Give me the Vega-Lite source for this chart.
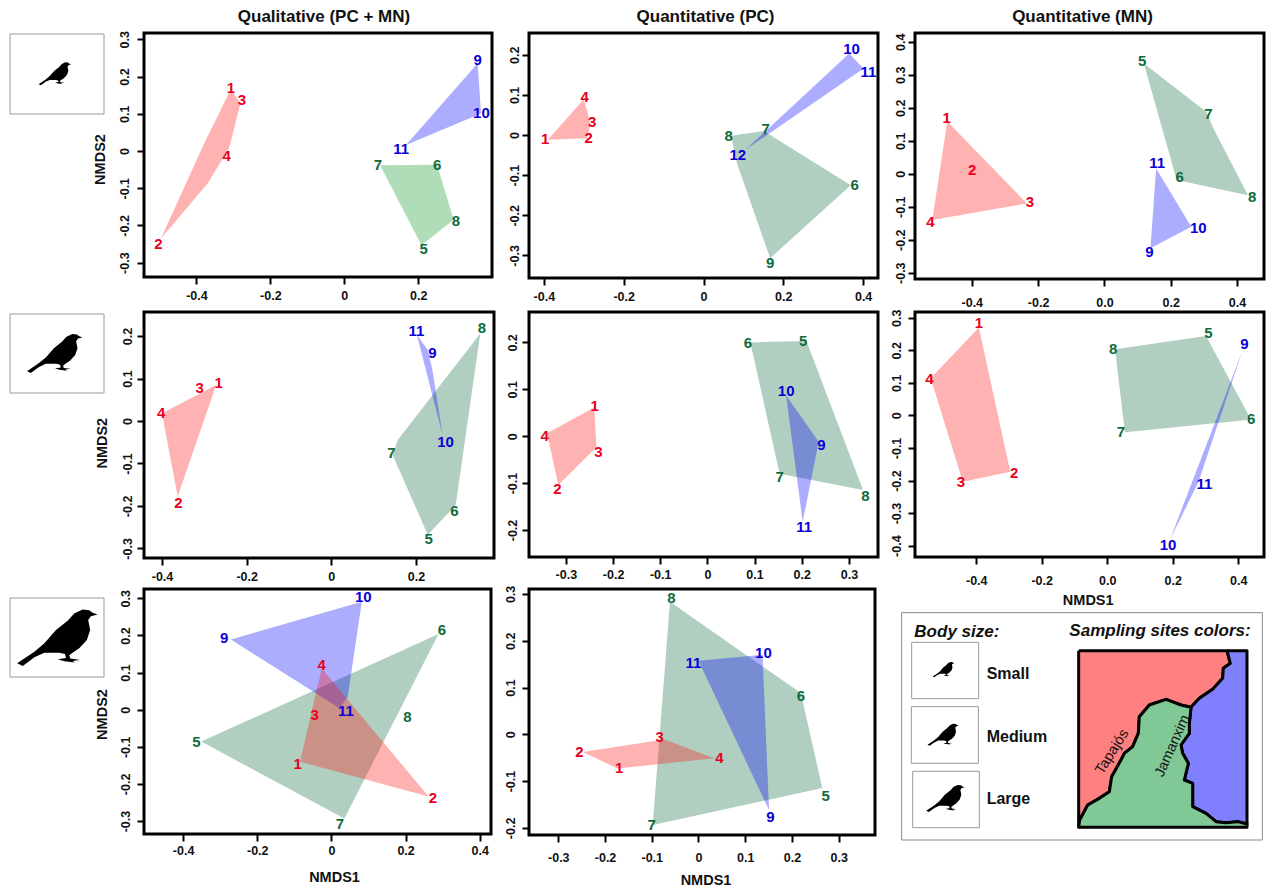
{"$schema":"https://vega.github.io/schema/vega-lite/v6.json","padding":{"left":9,"top":0,"right":0,"bottom":0},"background":"white","bounds":"flush","spacing":0,"columns":7,"resolve":{"scale":{"fill":"independent"}},
"config":{"view":{"stroke":null},"font":"Liberation Sans","axis":{"grid":false,"domain":false,"ticks":true,"tickColor":"black","tickWidth":2,"tickSize":7,"labelFont":"Liberation Sans","labelFontWeight":"bold","labelFontSize":12.5,"labelColor":"#111","labelOverlap":false,"labelFlush":false,"labelBound":false,"titleFont":"Liberation Sans","titleFontWeight":"bold","titleFontSize":14.5,"titleColor":"#111","titleBaseline":"middle","titleAlign":"center"},"axisY":{"labelAngle":-90,"labelAlign":"center","labelBaseline":"bottom"},"axisX":{"labelAngle":0,"labelAlign":"center","labelBaseline":"top"},"title":{"font":"Liberation Sans","fontWeight":"bold","fontSize":17,"color":"#111","anchor":"middle"}},
"datasets":{"e":[{}],"box":[{"x":0,"x2":1,"y":0,"y2":1}],"iconS":[{"x":0.48,"y":0.4925}],"iconM":[{"x":0.479,"y":0.491}],"iconL":[{"x":0.507,"y":0.49}],
"A1h":[{"s":"g","i":0,"x":0.097,"y":-0.0385},{"s":"g","i":1,"x":0.251,"y":-0.0367},{"s":"g","i":2,"x":0.296,"y":-0.185},{"s":"g","i":3,"x":0.209,"y":-0.253},{"s":"b","i":0,"x":0.361,"y":0.2355},{"s":"b","i":1,"x":0.37,"y":0.101},{"s":"b","i":2,"x":0.167,"y":0.016},{"s":"r","i":0,"x":-0.307,"y":0.166},{"s":"r","i":1,"x":-0.281,"y":0.128},{"s":"r","i":2,"x":-0.312,"y":0.007},{"s":"r","i":3,"x":-0.37,"y":-0.087},{"s":"r","i":4,"x":-0.496,"y":-0.235},{"s":"r","i":5,"x":-0.379,"y":0.021}],
"A1l":[{"s":"r","n":"1","x":-0.307,"y":0.168},{"s":"r","n":"3","x":-0.277,"y":0.137},{"s":"r","n":"4","x":-0.318,"y":-0.0134},{"s":"r","n":"2","x":-0.503,"y":-0.249},{"s":"b","n":"9","x":0.361,"y":0.244},{"s":"b","n":"10","x":0.371,"y":0.101},{"s":"b","n":"11","x":0.154,"y":0.006},{"s":"g","n":"7","x":0.091,"y":-0.0385},{"s":"g","n":"6","x":0.251,"y":-0.0367},{"s":"g","n":"8","x":0.302,"y":-0.189},{"s":"g","n":"5","x":0.215,"y":-0.262}],
"A2h":[{"s":"g","i":0,"x":0.069,"y":-0.002},{"s":"g","i":1,"x":0.151,"y":0.01},{"s":"g","i":2,"x":0.369,"y":-0.125},{"s":"g","i":3,"x":0.167,"y":-0.307},{"s":"g","i":4,"x":0.084,"y":-0.071},{"s":"b","i":0,"x":0.365,"y":0.203},{"s":"b","i":1,"x":0.401,"y":0.166},{"s":"b","i":2,"x":0.105,"y":-0.037},{"s":"r","i":0,"x":-0.3,"y":0.089},{"s":"r","i":1,"x":-0.283,"y":0.029},{"s":"r","i":2,"x":-0.292,"y":-0.008},{"s":"r","i":3,"x":-0.39,"y":-0.012}],
"A2l":[{"s":"r","n":"4","x":-0.298,"y":0.095},{"s":"r","n":"3","x":-0.279,"y":0.033},{"s":"r","n":"2","x":-0.288,"y":-0.008},{"s":"r","n":"1","x":-0.397,"y":-0.011},{"s":"g","n":"8","x":0.063,"y":-0.003},{"s":"g","n":"7","x":0.156,"y":0.015},{"s":"b","n":"12","x":0.086,"y":-0.05},{"s":"b","n":"10","x":0.371,"y":0.215},{"s":"b","n":"11","x":0.413,"y":0.156},{"s":"g","n":"6","x":0.379,"y":-0.125},{"s":"g","n":"9","x":0.167,"y":-0.32}],
"A3h":[{"s":"g","i":0,"x":0.119,"y":0.334},{"s":"g","i":1,"x":0.307,"y":0.188},{"s":"g","i":2,"x":0.329,"y":0.137},{"s":"g","i":3,"x":0.433,"y":-0.065},{"s":"g","i":4,"x":0.218,"y":-0.019},{"s":"b","i":0,"x":0.156,"y":0.016},{"s":"b","i":1,"x":0.262,"y":-0.161},{"s":"b","i":2,"x":0.139,"y":-0.226},{"s":"r","i":0,"x":-0.474,"y":0.158},{"s":"r","i":1,"x":-0.234,"y":-0.09},{"s":"r","i":2,"x":-0.519,"y":-0.14}],
"A3l":[{"s":"r","n":"1","x":-0.476,"y":0.17},{"s":"r","n":"2","x":-0.399,"y":0.011},{"s":"r","n":"3","x":-0.225,"y":-0.085},{"s":"r","n":"4","x":-0.525,"y":-0.146},{"s":"g","n":"5","x":0.114,"y":0.342},{"s":"g","n":"7","x":0.314,"y":0.181},{"s":"g","n":"6","x":0.227,"y":-0.009},{"s":"g","n":"8","x":0.446,"y":-0.07},{"s":"b","n":"11","x":0.159,"y":0.031},{"s":"b","n":"10","x":0.283,"y":-0.166},{"s":"b","n":"9","x":0.136,"y":-0.236}],
"B1h":[{"s":"g","i":0,"x":0.352,"y":0.206},{"s":"g","i":1,"x":0.294,"y":-0.198},{"s":"g","i":2,"x":0.228,"y":-0.268},{"s":"g","i":3,"x":0.145,"y":-0.08},{"s":"g","i":4,"x":0.157,"y":-0.045},{"s":"b","i":0,"x":0.202,"y":0.203},{"s":"b","i":1,"x":0.228,"y":0.167},{"s":"b","i":2,"x":0.239,"y":0.12},{"s":"b","i":3,"x":0.263,"y":-0.033},{"s":"r","i":0,"x":-0.272,"y":0.085},{"s":"r","i":1,"x":-0.4,"y":0.018},{"s":"r","i":2,"x":-0.363,"y":-0.178}],
"B1l":[{"s":"r","n":"1","x":-0.266,"y":0.09},{"s":"r","n":"3","x":-0.311,"y":0.077},{"s":"r","n":"4","x":-0.402,"y":0.02},{"s":"r","n":"2","x":-0.361,"y":-0.192},{"s":"g","n":"8","x":0.356,"y":0.218},{"s":"b","n":"11","x":0.201,"y":0.212},{"s":"b","n":"9","x":0.239,"y":0.159},{"s":"b","n":"10","x":0.27,"y":-0.05},{"s":"g","n":"7","x":0.142,"y":-0.076},{"s":"g","n":"6","x":0.291,"y":-0.213},{"s":"g","n":"5","x":0.23,"y":-0.279}],
"B2h":[{"s":"g","i":0,"x":0.091,"y":0.2},{"s":"g","i":1,"x":0.21,"y":0.203},{"s":"g","i":2,"x":0.33,"y":-0.115},{"s":"g","i":3,"x":0.153,"y":-0.08},{"s":"b","i":0,"x":0.167,"y":0.087},{"s":"b","i":1,"x":0.236,"y":-0.012},{"s":"b","i":2,"x":0.202,"y":-0.183},{"s":"r","i":0,"x":-0.24,"y":0.061},{"s":"r","i":1,"x":-0.235,"y":-0.023},{"s":"r","i":2,"x":-0.316,"y":-0.104},{"s":"r","i":3,"x":-0.34,"y":0.006}],
"B2l":[{"s":"r","n":"1","x":-0.239,"y":0.065},{"s":"r","n":"3","x":-0.231,"y":-0.033},{"s":"r","n":"4","x":-0.345,"y":0},{"s":"r","n":"2","x":-0.318,"y":-0.113},{"s":"g","n":"6","x":0.086,"y":0.198},{"s":"g","n":"5","x":0.203,"y":0.204},{"s":"b","n":"10","x":0.167,"y":0.096},{"s":"b","n":"9","x":0.242,"y":-0.018},{"s":"g","n":"7","x":0.153,"y":-0.087},{"s":"g","n":"8","x":0.335,"y":-0.128},{"s":"b","n":"11","x":0.205,"y":-0.194}],
"B3h":[{"s":"g","i":0,"x":0.024,"y":0.203},{"s":"g","i":1,"x":0.302,"y":0.244},{"s":"g","i":2,"x":0.432,"y":0.001},{"s":"g","i":3,"x":0.426,"y":-0.014},{"s":"g","i":4,"x":0.054,"y":-0.052},{"s":"b","i":0,"x":0.414,"y":0.201},{"s":"b","i":1,"x":0.279,"y":-0.204},{"s":"b","i":2,"x":0.192,"y":-0.381},{"s":"r","i":0,"x":-0.392,"y":0.27},{"s":"r","i":1,"x":-0.296,"y":-0.173},{"s":"r","i":2,"x":-0.441,"y":-0.204},{"s":"r","i":3,"x":-0.539,"y":0.114}],
"B3l":[{"s":"r","n":"1","x":-0.392,"y":0.285},{"s":"r","n":"4","x":-0.543,"y":0.112},{"s":"r","n":"3","x":-0.447,"y":-0.203},{"s":"r","n":"2","x":-0.284,"y":-0.176},{"s":"g","n":"8","x":0.018,"y":0.205},{"s":"g","n":"5","x":0.309,"y":0.252},{"s":"g","n":"7","x":0.042,"y":-0.05},{"s":"g","n":"6","x":0.44,"y":-0.01},{"s":"b","n":"9","x":0.419,"y":0.219},{"s":"b","n":"11","x":0.297,"y":-0.212},{"s":"b","n":"10","x":0.186,"y":-0.398}],
"C1h":[{"s":"g","i":0,"x":0.289,"y":0.204},{"s":"g","i":1,"x":0.035,"y":-0.293},{"s":"g","i":2,"x":-0.351,"y":-0.086},{"s":"b","i":0,"x":0.082,"y":0.291},{"s":"b","i":1,"x":0.044,"y":0.035},{"s":"b","i":2,"x":0.022,"y":0.004},{"s":"b","i":3,"x":-0.271,"y":0.189},{"s":"r","i":0,"x":-0.026,"y":0.111},{"s":"r","i":1,"x":0.262,"y":-0.234},{"s":"r","i":2,"x":-0.085,"y":-0.14}],
"C1l":[{"s":"b","n":"10","x":0.086,"y":0.303},{"s":"g","n":"6","x":0.298,"y":0.216},{"s":"b","n":"9","x":-0.289,"y":0.192},{"s":"r","n":"4","x":-0.026,"y":0.121},{"s":"r","n":"3","x":-0.045,"y":-0.013},{"s":"b","n":"11","x":0.039,"y":-0.004},{"s":"g","n":"8","x":0.205,"y":-0.02},{"s":"g","n":"5","x":-0.364,"y":-0.086},{"s":"r","n":"1","x":-0.091,"y":-0.145},{"s":"r","n":"2","x":0.274,"y":-0.239},{"s":"g","n":"7","x":0.023,"y":-0.309}],
"C2h":[{"s":"g","i":0,"x":-0.061,"y":0.283},{"s":"g","i":1,"x":0.219,"y":0.088},{"s":"g","i":2,"x":0.265,"y":-0.115},{"s":"g","i":3,"x":-0.098,"y":-0.194},{"s":"b","i":0,"x":0,"y":0.157},{"s":"b","i":1,"x":0.137,"y":0.17},{"s":"b","i":2,"x":0.151,"y":-0.162},{"s":"r","i":0,"x":-0.073,"y":-0.011},{"s":"r","i":1,"x":0.034,"y":-0.051},{"s":"r","i":2,"x":-0.173,"y":-0.073},{"s":"r","i":3,"x":-0.248,"y":-0.038}],
"C2l":[{"s":"g","n":"8","x":-0.058,"y":0.291},{"s":"b","n":"10","x":0.139,"y":0.173},{"s":"b","n":"11","x":-0.011,"y":0.153},{"s":"g","n":"6","x":0.219,"y":0.082},{"s":"r","n":"3","x":-0.083,"y":-0.005},{"s":"r","n":"2","x":-0.255,"y":-0.038},{"s":"r","n":"4","x":0.045,"y":-0.051},{"s":"r","n":"1","x":-0.17,"y":-0.072},{"s":"g","n":"5","x":0.272,"y":-0.132},{"s":"b","n":"9","x":0.154,"y":-0.177},{"s":"g","n":"7","x":-0.1,"y":-0.194}],
"regions":[{"s":"r","i":0,"x":563,"y":152},{"s":"r","i":1,"x":1008,"y":152},{"s":"r","i":2,"x":1018,"y":190},{"s":"r","i":3,"x":997,"y":205},{"s":"r","i":4,"x":995,"y":235},{"s":"r","i":5,"x":965,"y":268},{"s":"r","i":6,"x":925,"y":295},{"s":"r","i":7,"x":900,"y":322},{"s":"r","i":8,"x":870,"y":315},{"s":"r","i":9,"x":825,"y":298},{"s":"r","i":10,"x":775,"y":315},{"s":"r","i":11,"x":745,"y":350},{"s":"r","i":12,"x":742,"y":400},{"s":"r","i":13,"x":725,"y":440},{"s":"r","i":14,"x":700,"y":460},{"s":"r","i":15,"x":690,"y":480},{"s":"r","i":16,"x":662,"y":530},{"s":"r","i":17,"x":655,"y":575},{"s":"r","i":18,"x":625,"y":595},{"s":"r","i":19,"x":590,"y":615},{"s":"r","i":20,"x":566,"y":660},{"s":"r","i":21,"x":563,"y":682},{"s":"r","i":22,"x":563,"y":152},
{"s":"b","i":0,"x":1008,"y":152},{"s":"b","i":1,"x":1068,"y":152},{"s":"b","i":2,"x":1068,"y":672},{"s":"b","i":3,"x":1040,"y":665},{"s":"b","i":4,"x":1005,"y":668},{"s":"b","i":5,"x":975,"y":665},{"s":"b","i":6,"x":945,"y":640},{"s":"b","i":7,"x":905,"y":620},{"s":"b","i":8,"x":905,"y":550},{"s":"b","i":9,"x":880,"y":540},{"s":"b","i":10,"x":892,"y":490},{"s":"b","i":11,"x":875,"y":460},{"s":"b","i":12,"x":870,"y":435},{"s":"b","i":13,"x":895,"y":400},{"s":"b","i":14,"x":895,"y":370},{"s":"b","i":15,"x":900,"y":322},{"s":"b","i":16,"x":925,"y":295},{"s":"b","i":17,"x":965,"y":268},{"s":"b","i":18,"x":995,"y":235},{"s":"b","i":19,"x":997,"y":205},{"s":"b","i":20,"x":1018,"y":190},{"s":"b","i":21,"x":1008,"y":152},
{"s":"g","i":0,"x":563,"y":682},{"s":"g","i":1,"x":566,"y":660},{"s":"g","i":2,"x":590,"y":615},{"s":"g","i":3,"x":625,"y":595},{"s":"g","i":4,"x":655,"y":575},{"s":"g","i":5,"x":662,"y":530},{"s":"g","i":6,"x":690,"y":480},{"s":"g","i":7,"x":700,"y":460},{"s":"g","i":8,"x":725,"y":440},{"s":"g","i":9,"x":742,"y":400},{"s":"g","i":10,"x":745,"y":350},{"s":"g","i":11,"x":775,"y":315},{"s":"g","i":12,"x":825,"y":298},{"s":"g","i":13,"x":870,"y":315},{"s":"g","i":14,"x":900,"y":322},{"s":"g","i":15,"x":895,"y":370},{"s":"g","i":16,"x":895,"y":400},{"s":"g","i":17,"x":870,"y":435},{"s":"g","i":18,"x":875,"y":460},{"s":"g","i":19,"x":892,"y":490},{"s":"g","i":20,"x":880,"y":540},{"s":"g","i":21,"x":905,"y":550},{"s":"g","i":22,"x":905,"y":620},{"s":"g","i":23,"x":945,"y":640},{"s":"g","i":24,"x":975,"y":665},{"s":"g","i":25,"x":1005,"y":668},{"s":"g","i":26,"x":1040,"y":665},{"s":"g","i":27,"x":1068,"y":672},{"s":"g","i":28,"x":1068,"y":682},{"s":"g","i":29,"x":563,"y":682}],
"frame":[{"x":32,"x2":1114,"y":38,"y2":720}],
"boxes":[{"x":62,"x2":263,"y":127,"y2":296},{"x":61,"x2":262,"y":320,"y2":490},{"x":65,"x2":265,"y":514,"y2":683}],
"birds":[{"b":"Small","x":158,"y":208},{"b":"Medium","x":157,"y":403},{"b":"Large","x":164,"y":594}],
"sizes":[{"t":"Small","x":287,"y":222},{"t":"Medium","x":287,"y":410},{"t":"Large","x":287,"y":598}],
"head1":[{"t":"Body size:","x":70,"y":95},{"t":"Sampling sites colors:","x":535,"y":92}],
"tap":[{"t":"Tapajós","x":664,"y":456}],"jam":[{"t":"Jamanxim","x":845,"y":438}]},
"concat":[
{"width":1,"height":27,"data":{"name":"e"},"mark":{"type":"text","text":""}},{"width":1,"height":1,"data":{"name":"e"},"mark":{"type":"text","text":""}},{"width":1,"height":1,"data":{"name":"e"},"mark":{"type":"text","text":""}},{"width":1,"height":1,"data":{"name":"e"},"mark":{"type":"text","text":""}},{"width":1,"height":1,"data":{"name":"e"},"mark":{"type":"text","text":""}},{"width":1,"height":1,"data":{"name":"e"},"mark":{"type":"text","text":""}},{"width":1,"height":1,"data":{"name":"e"},"mark":{"type":"text","text":""}},

{"width":94,"height":81,"encoding":{"x":{"field":"x","type":"quantitative","axis":null,"scale":{"domain":[0,1]}},"y":{"field":"y","type":"quantitative","axis":null,"scale":{"domain":[1,-0.0125]}}},"layer":[{"data":{"name":"box"},"mark":{"type":"rect","fill":"white","stroke":"#999","strokeWidth":1},"encoding":{"x2":{"field":"x2"},"y2":{"field":"y2"}}},{"data":{"name":"iconS"},"mark":{"type":"point","filled":true,"opacity":1,"color":"black","size":1089,"shape":"M0.984,-0.549L0.82,-0.508L0.754,-0.41L0.803,-0.164L0.721,0.082L0.533,0.287L0.369,0.393L0.287,0.459L0.311,0.541L0.557,0.574L0.369,0.598L0.426,0.639L0.164,0.607L0,0.557L0.205,0.525L0.18,0.426L0.041,0.393L-0.328,0.393L-0.574,0.508L-0.861,0.721L-1,0.656L-0.574,0.369L-0.328,0.164L-0.041,-0.164L0.246,-0.393L0.41,-0.574L0.615,-0.672L0.779,-0.656L0.861,-0.59Z"}}]},
{"width":40,"height":1,"data":{"name":"e"},"mark":{"type":"text","text":""}},
{"width":348,"height":244,"view":{"stroke":"black","strokeWidth":3},"title":{"text":"Qualitative (PC + MN)","dx":6,"offset":5},
"encoding":{"x":{"field":"x","type":"quantitative","scale":{"domain":[-0.542,0.3997],"nice":false,"zero":false},"axis":{"title":null,"values":[-0.4,-0.2,0,0.2],"labelPadding":5.2,"labelExpr":"(datum.value<0?'-':'')+format(abs(datum.value),'.1~f')"}},"y":{"field":"y","type":"quantitative","scale":{"domain":[-0.3385,0.317],"nice":false,"zero":false},"axis":{"title":"NMDS2","titleX":-43.7,"titleY":126,"values":[-0.3,-0.2,-0.1,0,0.1,0.2,0.3],"labelPadding":6,"labelExpr":"(datum.value<0?'-':'')+format(abs(datum.value),'.1~f')"}}},
"layer":[{"data":{"name":"A1h"},"mark":{"type":"line","strokeWidth":0,"strokeOpacity":0,"fillOpacity":0.32},"encoding":{"order":{"field":"i","type":"quantitative"},"fill":{"field":"s","type":"nominal","legend":null,"scale":{"domain":["g","b","r"],"range":["#029521","#0000ff","#ff0e0e"]}}}},
{"data":{"name":"A1l"},"mark":{"type":"text","font":"Liberation Sans","fontWeight":"bold","fontSize":15,"align":"center","baseline":"middle"},"encoding":{"text":{"field":"n"},"color":{"field":"s","type":"nominal","legend":null,"scale":{"domain":["g","b","r"],"range":["#0e6b3c","#0a00d8","#e8001c"]}}}}]},
{"width":35,"height":1,"data":{"name":"e"},"mark":{"type":"text","text":""}},
{"width":349,"height":245,"view":{"stroke":"black","strokeWidth":3},"title":{"text":"Quantitative (PC)","dx":2,"offset":7},
"encoding":{"x":{"field":"x","type":"quantitative","scale":{"domain":[-0.4373,0.4373],"nice":false,"zero":false},"axis":{"title":null,"values":[-0.4,-0.2,0,0.2,0.4],"labelPadding":5.2,"labelExpr":"(datum.value<0?'-':'')+format(abs(datum.value),'.1~f')"}},"y":{"field":"y","type":"quantitative","scale":{"domain":[-0.3563,0.2542],"nice":false,"zero":false},"axis":{"title":null,"values":[-0.3,-0.2,-0.1,0,0.1,0.2],"labelPadding":1,"labelExpr":"(datum.value<0?'-':'')+format(abs(datum.value),'.1~f')"}}},
"layer":[{"data":{"name":"A2h"},"mark":{"type":"line","strokeWidth":0,"strokeOpacity":0,"fillOpacity":0.32},"encoding":{"order":{"field":"i","type":"quantitative"},"fill":{"field":"s","type":"nominal","legend":null,"scale":{"domain":["g","b","r"],"range":["#0b693a","#0000ff","#ff0e0e"]}}}},
{"data":{"name":"A2l"},"mark":{"type":"text","font":"Liberation Sans","fontWeight":"bold","fontSize":15,"align":"center","baseline":"middle"},"encoding":{"text":{"field":"n"},"color":{"field":"s","type":"nominal","legend":null,"scale":{"domain":["g","b","r"],"range":["#0e6b3c","#0a00d8","#e8001c"]}}}}]},
{"width":37,"height":1,"data":{"name":"e"},"mark":{"type":"text","text":""}},
{"width":349,"height":246,"view":{"stroke":"black","strokeWidth":3},"title":{"text":"Quantitative (MN)","dx":-7,"offset":7},
"encoding":{"x":{"field":"x","type":"quantitative","scale":{"domain":[-0.5713,0.4814],"nice":false,"zero":false},"axis":{"title":null,"values":[-0.4,-0.2,0,0.2,0.4],"labelPadding":10.2,"labelExpr":"(datum.value<0?'-':'')+format(abs(datum.value),'.1f')"}},"y":{"field":"y","type":"quantitative","scale":{"domain":[-0.3191,0.4264],"nice":false,"zero":false},"axis":{"title":null,"values":[-0.3,-0.2,-0.1,0,0.1,0.2,0.3,0.4],"labelPadding":0.5,"labelExpr":"(datum.value<0?'-':'')+format(abs(datum.value),'.1~f')"}}},
"layer":[{"data":{"name":"A3h"},"mark":{"type":"line","strokeWidth":0,"strokeOpacity":0,"fillOpacity":0.32},"encoding":{"order":{"field":"i","type":"quantitative"},"fill":{"field":"s","type":"nominal","legend":null,"scale":{"domain":["g","b","r"],"range":["#0b693a","#0000ff","#ff0e0e"]}}}},
{"data":{"name":"A3l"},"mark":{"type":"text","font":"Liberation Sans","fontWeight":"bold","fontSize":15,"align":"center","baseline":"middle"},"encoding":{"text":{"field":"n"},"color":{"field":"s","type":"nominal","legend":null,"scale":{"domain":["g","b","r"],"range":["#0e6b3c","#0a00d8","#e8001c"]}}}}]},

{"width":1,"height":33,"data":{"name":"e"},"mark":{"type":"text","text":""}},{"width":1,"height":1,"data":{"name":"e"},"mark":{"type":"text","text":""}},{"width":1,"height":1,"data":{"name":"e"},"mark":{"type":"text","text":""}},{"width":1,"height":1,"data":{"name":"e"},"mark":{"type":"text","text":""}},{"width":1,"height":1,"data":{"name":"e"},"mark":{"type":"text","text":""}},{"width":1,"height":1,"data":{"name":"e"},"mark":{"type":"text","text":""}},{"width":1,"height":1,"data":{"name":"e"},"mark":{"type":"text","text":""}},

{"width":94,"height":81,"encoding":{"x":{"field":"x","type":"quantitative","axis":null,"scale":{"domain":[0,1]}},"y":{"field":"y","type":"quantitative","axis":null,"scale":{"domain":[1,-0.0253]}}},"layer":[{"data":{"name":"box"},"mark":{"type":"rect","fill":"white","stroke":"#999","strokeWidth":1},"encoding":{"x2":{"field":"x2"},"y2":{"field":"y2"}}},{"data":{"name":"iconM"},"mark":{"type":"point","filled":true,"opacity":1,"color":"black","size":3136,"shape":"M0.984,-0.549L0.82,-0.508L0.754,-0.41L0.803,-0.164L0.721,0.082L0.533,0.287L0.369,0.393L0.287,0.459L0.311,0.541L0.557,0.574L0.369,0.598L0.426,0.639L0.164,0.607L0,0.557L0.205,0.525L0.18,0.426L0.041,0.393L-0.328,0.393L-0.574,0.508L-0.861,0.721L-1,0.656L-0.574,0.369L-0.328,0.164L-0.041,-0.164L0.246,-0.393L0.41,-0.574L0.615,-0.672L0.779,-0.656L0.861,-0.59Z"}}]},
{"width":40,"height":1,"data":{"name":"e"},"mark":{"type":"text","text":""}},
{"width":350,"height":246,"view":{"stroke":"black","strokeWidth":3},
"encoding":{"x":{"field":"x","type":"quantitative","scale":{"domain":[-0.4425,0.3844],"nice":false,"zero":false},"axis":{"title":null,"values":[-0.4,-0.2,0,0.2],"labelPadding":5.5,"labelExpr":"(datum.value<0?'-':'')+format(abs(datum.value),'.1~f')"}},"y":{"field":"y","type":"quantitative","scale":{"domain":[-0.3226,0.2567],"nice":false,"zero":false},"axis":{"title":"NMDS2","titleX":-41.3,"titleY":130.7,"values":[-0.3,-0.2,-0.1,0,0.1,0.2],"labelPadding":2.3,"labelExpr":"(datum.value<0?'-':'')+format(abs(datum.value),'.1~f')"}}},
"layer":[{"data":{"name":"B1h"},"mark":{"type":"line","strokeWidth":0,"strokeOpacity":0,"fillOpacity":0.32},"encoding":{"order":{"field":"i","type":"quantitative"},"fill":{"field":"s","type":"nominal","legend":null,"scale":{"domain":["g","b","r"],"range":["#0b693a","#0000ff","#ff0e0e"]}}}},
{"data":{"name":"B1l"},"mark":{"type":"text","font":"Liberation Sans","fontWeight":"bold","fontSize":15,"align":"center","baseline":"middle"},"encoding":{"text":{"field":"n"},"color":{"field":"s","type":"nominal","legend":null,"scale":{"domain":["g","b","r"],"range":["#0e6b3c","#0a00d8","#e8001c"]}}}}]},
{"width":35,"height":1,"data":{"name":"e"},"mark":{"type":"text","text":""}},
{"width":349,"height":245,"view":{"stroke":"black","strokeWidth":3},
"encoding":{"x":{"field":"x","type":"quantitative","scale":{"domain":[-0.3782,0.3617],"nice":false,"zero":false},"axis":{"title":null,"values":[-0.3,-0.2,-0.1,0,0.1,0.2,0.3],"labelPadding":4.2,"labelExpr":"(datum.value<0?'-':'')+format(abs(datum.value),'.1~f')"}},"y":{"field":"y","type":"quantitative","scale":{"domain":[-0.2576,0.2648],"nice":false,"zero":false},"axis":{"title":null,"values":[-0.2,-0.1,0,0.1,0.2],"labelPadding":2.7,"labelExpr":"(datum.value<0?'-':'')+format(abs(datum.value),'.1~f')"}}},
"layer":[{"data":{"name":"B2h"},"mark":{"type":"line","strokeWidth":0,"strokeOpacity":0,"fillOpacity":0.32},"encoding":{"order":{"field":"i","type":"quantitative"},"fill":{"field":"s","type":"nominal","legend":null,"scale":{"domain":["g","b","r"],"range":["#0b693a","#0000ff","#ff0e0e"]}}}},
{"data":{"name":"B2l"},"mark":{"type":"text","font":"Liberation Sans","fontWeight":"bold","fontSize":15,"align":"center","baseline":"middle"},"encoding":{"text":{"field":"n"},"color":{"field":"s","type":"nominal","legend":null,"scale":{"domain":["g","b","r"],"range":["#0e6b3c","#0a00d8","#e8001c"]}}}}]},
{"width":37,"height":1,"data":{"name":"e"},"mark":{"type":"text","text":""}},
{"width":349,"height":245,"view":{"stroke":"black","strokeWidth":3},
"encoding":{"x":{"field":"x","type":"quantitative","scale":{"domain":[-0.587,0.4789],"nice":false,"zero":false},"axis":{"title":"NMDS1","titleX":172.7,"titleY":43,"values":[-0.4,-0.2,0,0.2,0.4],"labelPadding":10.5,"labelExpr":"(datum.value<0?'-':'')+format(abs(datum.value),'.1f')"}},"y":{"field":"y","type":"quantitative","scale":{"domain":[-0.4348,0.3175],"nice":false,"zero":false},"axis":{"title":null,"values":[-0.4,-0.3,-0.2,-0.1,0,0.1,0.2,0.3],"labelPadding":4.3,"labelExpr":"(datum.value<0?'-':'')+format(abs(datum.value),'.1~f')"}}},
"layer":[{"data":{"name":"B3h"},"mark":{"type":"line","strokeWidth":0,"strokeOpacity":0,"fillOpacity":0.32},"encoding":{"order":{"field":"i","type":"quantitative"},"fill":{"field":"s","type":"nominal","legend":null,"scale":{"domain":["g","b","r"],"range":["#0b693a","#0000ff","#ff0e0e"]}}}},
{"data":{"name":"B3l"},"mark":{"type":"text","font":"Liberation Sans","fontWeight":"bold","fontSize":15,"align":"center","baseline":"middle"},"encoding":{"text":{"field":"n"},"color":{"field":"s","type":"nominal","legend":null,"scale":{"domain":["g","b","r"],"range":["#0e6b3c","#0a00d8","#e8001c"]}}}}]},

{"width":1,"height":31,"data":{"name":"e"},"mark":{"type":"text","text":""}},{"width":1,"height":1,"data":{"name":"e"},"mark":{"type":"text","text":""}},{"width":1,"height":1,"data":{"name":"e"},"mark":{"type":"text","text":""}},{"width":1,"height":1,"data":{"name":"e"},"mark":{"type":"text","text":""}},{"width":1,"height":1,"data":{"name":"e"},"mark":{"type":"text","text":""}},{"width":1,"height":1,"data":{"name":"e"},"mark":{"type":"text","text":""}},{"width":1,"height":1,"data":{"name":"e"},"mark":{"type":"text","text":""}},

{"width":94,"height":88,"encoding":{"x":{"field":"x","type":"quantitative","axis":null,"scale":{"domain":[0,1]}},"y":{"field":"y","type":"quantitative","axis":null,"scale":{"domain":[1,-0.1139]}}},"layer":[{"data":{"name":"box"},"mark":{"type":"rect","fill":"white","stroke":"#999","strokeWidth":1},"encoding":{"x2":{"field":"x2"},"y2":{"field":"y2"}}},{"data":{"name":"iconL"},"mark":{"type":"point","filled":true,"opacity":1,"color":"black","size":6561,"shape":"M0.984,-0.549L0.82,-0.508L0.754,-0.41L0.803,-0.164L0.721,0.082L0.533,0.287L0.369,0.393L0.287,0.459L0.311,0.541L0.557,0.574L0.369,0.598L0.426,0.639L0.164,0.607L0,0.557L0.205,0.525L0.18,0.426L0.041,0.393L-0.328,0.393L-0.574,0.508L-0.861,0.721L-1,0.656L-0.574,0.369L-0.328,0.164L-0.041,-0.164L0.246,-0.393L0.41,-0.574L0.615,-0.672L0.779,-0.656L0.861,-0.59Z"}}]},
{"width":40,"height":1,"data":{"name":"e"},"mark":{"type":"text","text":""}},
{"width":347,"height":245,"view":{"stroke":"black","strokeWidth":3},
"encoding":{"x":{"field":"x","type":"quantitative","scale":{"domain":[-0.5054,0.4304],"nice":false,"zero":false},"axis":{"title":"NMDS1","titleX":190,"titleY":43,"values":[-0.4,-0.2,0,0.2,0.4],"labelPadding":3.5,"labelExpr":"(datum.value<0?'-':'')+format(abs(datum.value),'.1~f')"}},"y":{"field":"y","type":"quantitative","scale":{"domain":[-0.3349,0.3252],"nice":false,"zero":false},"axis":{"title":"NMDS2","titleX":-41.3,"titleY":125,"values":[-0.3,-0.2,-0.1,0,0.1,0.2,0.3],"labelPadding":4.7,"labelExpr":"(datum.value<0?'-':'')+format(abs(datum.value),'.1~f')"}}},
"layer":[{"data":{"name":"C1h"},"mark":{"type":"line","strokeWidth":0,"strokeOpacity":0,"fillOpacity":0.32},"encoding":{"order":{"field":"i","type":"quantitative"},"fill":{"field":"s","type":"nominal","legend":null,"scale":{"domain":["g","b","r"],"range":["#0b693a","#0000ff","#ff0e0e"]}}}},
{"data":{"name":"C1l"},"mark":{"type":"text","font":"Liberation Sans","fontWeight":"bold","fontSize":15,"align":"center","baseline":"middle"},"encoding":{"text":{"field":"n"},"color":{"field":"s","type":"nominal","legend":null,"scale":{"domain":["g","b","r"],"range":["#0e6b3c","#0a00d8","#e8001c"]}}}}]},
{"width":35,"height":1,"data":{"name":"e"},"mark":{"type":"text","text":""}},
{"width":346,"height":246,"view":{"stroke":"black","strokeWidth":3},
"encoding":{"x":{"field":"x","type":"quantitative","scale":{"domain":[-0.3627,0.3777],"nice":false,"zero":false},"axis":{"title":"NMDS1","titleX":176.5,"titleY":45,"values":[-0.3,-0.2,-0.1,0,0.1,0.2,0.3],"labelPadding":9.5,"labelExpr":"(datum.value<0?'-':'')+format(abs(datum.value),'.1~f')"}},"y":{"field":"y","type":"quantitative","scale":{"domain":[-0.2152,0.3105],"nice":false,"zero":false},"axis":{"title":null,"values":[-0.2,-0.1,0,0.1,0.2,0.3],"labelPadding":4.3,"labelExpr":"(datum.value<0?'-':'')+format(abs(datum.value),'.1~f')"}}},
"layer":[{"data":{"name":"C2h"},"mark":{"type":"line","strokeWidth":0,"strokeOpacity":0,"fillOpacity":0.32},"encoding":{"order":{"field":"i","type":"quantitative"},"fill":{"field":"s","type":"nominal","legend":null,"scale":{"domain":["g","b","r"],"range":["#0b693a","#0000ff","#ff0e0e"]}}}},
{"data":{"name":"C2l"},"mark":{"type":"text","font":"Liberation Sans","fontWeight":"bold","fontSize":15,"align":"center","baseline":"middle"},"encoding":{"text":{"field":"n"},"color":{"field":"s","type":"nominal","legend":null,"scale":{"domain":["g","b","r"],"range":["#0e6b3c","#0a00d8","#e8001c"]}}}}]},
{"width":37,"height":1,"data":{"name":"e"},"mark":{"type":"text","text":""}},
{"width":349,"height":246,
"encoding":{"x":{"field":"x","type":"quantitative","axis":null,"scale":{"domain":[72,1119],"nice":false,"zero":false}},"y":{"field":"y","type":"quantitative","axis":null,"scale":{"domain":[705,-33],"nice":false,"zero":false}}},
"layer":[
{"data":{"name":"frame"},"mark":{"type":"rect","fill":"white","stroke":"#888","strokeWidth":1},"encoding":{"x2":{"field":"x2"},"y2":{"field":"y2"}}},
{"data":{"name":"regions"},"mark":{"type":"line","stroke":"black","strokeWidth":3,"strokeJoin":"round"},"encoding":{"order":{"field":"i","type":"quantitative"},"fill":{"field":"s","type":"nominal","legend":null,"scale":{"domain":["r","b","g"],"range":["#ff8080","#8080ff","#80c896"]}}}},
{"data":{"name":"boxes"},"mark":{"type":"rect","fill":"white","stroke":"#999","strokeWidth":1},"encoding":{"x2":{"field":"x2"},"y2":{"field":"y2"}}},
{"data":{"name":"birds"},"mark":{"type":"point","filled":true,"opacity":1,"color":"black","shape":"M0.984,-0.549L0.82,-0.508L0.754,-0.41L0.803,-0.164L0.721,0.082L0.533,0.287L0.369,0.393L0.287,0.459L0.311,0.541L0.557,0.574L0.369,0.598L0.426,0.639L0.164,0.607L0,0.557L0.205,0.525L0.18,0.426L0.041,0.393L-0.328,0.393L-0.574,0.508L-0.861,0.721L-1,0.656L-0.574,0.369L-0.328,0.164L-0.041,-0.164L0.246,-0.393L0.41,-0.574L0.615,-0.672L0.779,-0.656L0.861,-0.59Z"},"encoding":{"size":{"field":"b","type":"ordinal","legend":null,"scale":{"domain":["Small","Medium","Large"],"range":[484,1521,3136]}}}},
{"data":{"name":"sizes"},"mark":{"type":"text","font":"Liberation Sans","fontWeight":"bold","fontSize":16,"align":"left","baseline":"middle","color":"#111"},"encoding":{"text":{"field":"t"}}},
{"data":{"name":"head1"},"mark":{"type":"text","font":"Liberation Sans","fontWeight":"bold","fontStyle":"italic","fontSize":17,"align":"left","baseline":"middle","color":"#111"},"encoding":{"text":{"field":"t"}}},
{"data":{"name":"tap"},"mark":{"type":"text","font":"Liberation Sans","fontSize":14.5,"align":"center","baseline":"middle","angle":-58,"color":"#111"},"encoding":{"text":{"field":"t"}}},
{"data":{"name":"jam"},"mark":{"type":"text","font":"Liberation Sans","fontSize":14.5,"align":"center","baseline":"middle","angle":-66,"color":"#111"},"encoding":{"text":{"field":"t"}}}
]}
]}
